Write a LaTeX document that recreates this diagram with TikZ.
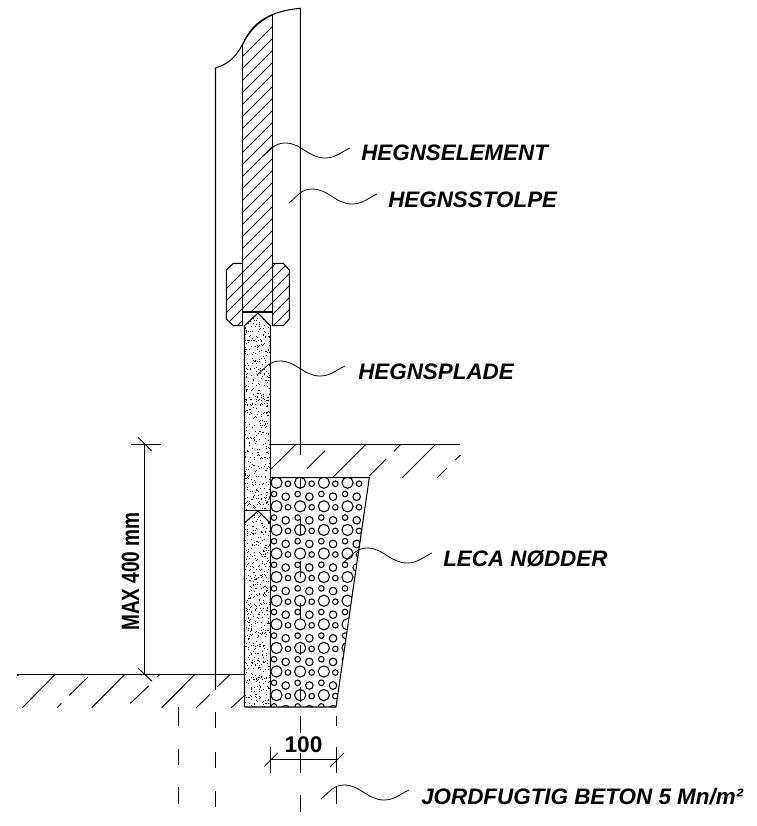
\documentclass[tikz,border=0pt]{standalone}
\usepackage{fontspec}
\setmainfont{Liberation Sans}
\begin{document}
\begin{tikzpicture}[x=0.75pt,y=-0.75pt,
  ln/.style={line width=0.8pt,black},
  hatch/.style={line width=0.7pt,black},
  dashln/.style={line width=0.75pt,black},
  circ/.style={line width=0.8pt,black},
  leader/.style={line width=0.6pt,black},
  lab/.style={font=\fontsize{16.8}{20}\selectfont\bfseries\itshape,anchor=west,inner sep=0pt},
  dim/.style={font=\fontsize{17}{20}\selectfont\bfseries,inner sep=0pt}]
\useasboundingbox (0,0) rectangle (757,826);
\fill[white] (0,0) rectangle (757,826);

% stipple of the two plates
\pgfmathsetseed{4711}
\begin{scope}
  \clip (244.5,325.7) -- (258,313) -- (270.3,325.7) -- (270.3,707) -- (244.5,707) -- cycle;
  \foreach \i in {1,...,1050}{
    \pgfmathtruncatemacro\dx{245+rnd*26}
    \pgfmathtruncatemacro\dy{312+rnd*395}
    \fill[black] (\dx,\dy) rectangle +(1,1);
  }
\end{scope}
\fill[white] (271,510.6) -- (258,511) -- (271,523) -- cycle;
\fill[white] (244,510.6) -- (258,511) -- (244,523) -- cycle;

% hatch of element and clamp
\begin{scope}
  \clip (242.3,45) .. controls (248,33) and (258,21) .. (272.3,15) -- (272.3,312) -- (242.3,312) -- cycle;
  \foreach \c in {0,...,28}{
    \draw[hatch] ({235},{299+12*\c-235}) -- ({280},{299+12*\c-280});
  }
\end{scope}
\begin{scope}
  \clip (242.3,263.3) -- (233.3,263.3) -- (226.3,270) -- (226.3,319) -- (233.3,325.7) -- (242.3,325.7) -- cycle
        (272.3,263.3) -- (283.3,263.3) -- (289.3,270) -- (289.3,319) -- (283.3,325.7) -- (272.3,325.7) -- cycle;
  \foreach \c in {18,...,28}{
    \draw[hatch] ({220},{299+12*\c-220}) -- ({295},{299+12*\c-295});
  }
\end{scope}

% LECA fill
\begin{scope}
  \clip (270.3,477.7) -- (369.3,477.7) -- (336,707) -- (270.3,707) -- cycle;
  \foreach \r in {0,...,9}{
    \foreach \k in {0,...,3}{
      \pgfmathsetmacro\ya{482.7+23.6*\r}
      \pgfmathsetmacro\yb{494+23.6*\r}
      \pgfmathsetmacro\yc{496.7+23.6*\r}
      \draw[circ] ({276.5+23.67*\k},\ya) circle[radius=5.6];
      \draw[circ] ({288+23.67*\k},{\ya+1}) circle[radius=2.8];
      \draw[circ] ({274+23.67*\k},\yb) circle[radius=2.8];
      \draw[circ] ({285.7+23.67*\k},\yc) circle[radius=3.8];
    }
  }
\end{scope}

% fence post with break line
\draw[ln] (215.5,690) -- (215.5,68)
  .. controls (228,64) and (235,58) .. (242.3,45)
  .. controls (250,28) and (262,12) .. (300.3,8.3) -- (300.3,455);
\draw[ln] (242.3,45) .. controls (248,33) and (258,21) .. (272.3,15);

% fence element
\draw[ln] (242.3,45) -- (242.3,325.7);
\draw[ln] (272.3,15) -- (272.3,325.7);
\draw[ln] (242.3,312) -- (272.3,312);

% clamp
\draw[ln] (242.3,263.3) -- (233.3,263.3) -- (226.3,270) -- (226.3,319) -- (233.3,325.7) -- (242.3,325.7);
\draw[ln] (272.3,263.3) -- (283.3,263.3) -- (289.3,270) -- (289.3,319) -- (283.3,325.7) -- (272.3,325.7);

% plates
\draw[ln] (244.5,707) -- (244.5,325.7) -- (258,313) -- (270.3,325.7) -- (270.3,707);
\draw[ln] (244.5,510.3) -- (270.3,510.3);
\draw[ln] (244.5,523) -- (258,511) -- (270.3,523);

% LECA outline
\draw[ln] (270.3,477.7) -- (369.3,477.7) -- (336,707) -- (244.5,707);

% ground right
\draw[ln] (270.3,444.3) -- (460,444.3);
\foreach \a/\b/\c/\d in {270.7/469.3/296/444.3, 307/468.7/325/450.7, 333.3/477/366/444.3,
  369/476.3/386/459.3, 394/451.3/401/444.3, 402.3/477.7/435.7/444.3, 437.3/477.7/447/468, 455/460/460.7/455}
  \draw[hatch] (\a,\b) -- (\c,\d);

% ground left
\draw[ln] (17,674.3) -- (244.5,674.3);
\foreach \a/\b/\c/\d in {17.3/676/19.3/674.3, 22.3/707.7/55.3/674.3, 57.3/707.7/61.3/703.3,
  69.3/695.3/87.7/677.3, 91.7/707.7/125/674.3, 130.3/703.3/148.7/686, 156.7/677.3/160/674.3,
  161.7/707.7/195/674.3, 196.3/707.7/210/694.3, 217.3/686.7/230.3/674.3, 231.3/707.7/244.3/695.7}
  \draw[hatch] (\a,\b) -- (\c,\d);

% centre and dashed lines
\foreach \x/\a/\b in {178/707/726, 178/749/765, 178/787/804,
  215.5/712/728, 215.5/752/768, 215.5/791/807,
  300.3/478/488, 300.3/519/535, 300.3/561/577, 300.3/603/619, 300.3/645/655, 300.3/687/702,
  300.3/716/733, 300.3/753/773, 300.3/795/812,
  336/716/726, 336/747/773, 336/787/804, 270.3/747/773}
  \draw[dashln] (\x,\a) -- (\x,\b);

% dimension MAX 400 mm
\coordinate (dimT) at (144.3,444.3);
\coordinate (dimB) at (144.3,674.3);
\draw[ln] (dimT) -- (dimB);
\draw[ln] (131,444.3) -- (161,444.3);
\draw[hatch] (138,437.3) -- (151.7,451);
\draw[hatch] (138.3,668.3) -- (152,681.3);
\node[inner sep=0pt,rotate=90,font=\fontsize{18.8}{22}\selectfont\bfseries] (maxdim) at (130.5,571.5) {\scalebox{0.76}[1]{MAX 400 mm}};

% dimension 100
\coordinate (dimL) at (270.3,759.3);
\coordinate (dimR) at (336,759.3);
\draw[ln] (dimL) -- (dimR);
\draw[hatch] (264.3,766.5) -- (277.7,753);
\draw[hatch] (330,767) -- (344,753);
\node[dim] (hundred) at (303.5,745) {100};

% labels
\node[lab] (l1) at (361,153) {HEGNSELEMENT};
\node[lab] (l2) at (388,200) {HEGNSSTOLPE};
\node[lab] (l3) at (358,372) {HEGNSPLADE};
\node[lab] (l4) at (443,559) {LECA NØDDER};
\node[lab] (l5) at (421,797) {JORDFUGTIG BETON 5 Mn/m²};

% leaders
\coordinate (e1) at (350,148);
\coordinate (e2) at (377,194);
\coordinate (e3) at (345,366);
\coordinate (e4) at (432,553);
\coordinate (e5) at (409,790);
\foreach \e in {e1,e2,e3,e4,e5}{
  \draw[leader] (\e) ++(-88,9) to[out=40,in=180] ++(23,-14) to[out=0,in=180] ++(40,15) to[out=0,in=205] (\e);
}
\end{tikzpicture}
\end{document}
